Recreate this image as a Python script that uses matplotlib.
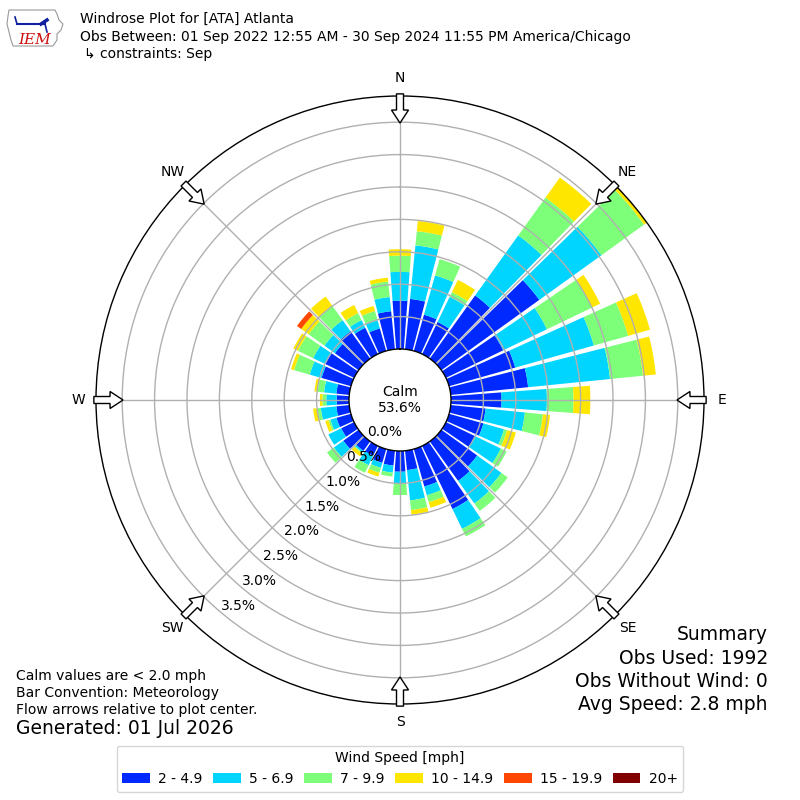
import numpy as np
import matplotlib
matplotlib.use("Agg")
import matplotlib.pyplot as plt
from matplotlib.patches import FancyArrow, Patch, Polygon

# ---------------- data (percent of observations) ----------------
directions = list(range(0, 360, 10))
speed_labels = ["2 - 4.9", "5 - 6.9", "7 - 9.9", "10 - 14.9", "15 - 19.9", "20+"]

spd_2_5 = [0.745, 0.78, 0.58, 0.55, 1.20, 1.86, 0.98, 1.06, 1.20, 0.78, 0.54, 0.55,
           0.50, 0.68, 0.75, 1.08, 0.60, 0.30, 0.32, 0.23, 0.22, 0.17, 0.18, 0.29,
           0.22, 0.23, 0.20, 0.19, 0.20, 0.47, 0.49, 0.45, 0.52, 0.45, 0.36, 0.59]
spd_5_7 = [0.445, 0.83, 0.63, 0.43, 1.14, 1.18, 0.75, 1.26, 1.27, 0.70, 0.61, 0.33,
           0.44, 0.46, 0.43, 0.34, 0.14, 0.47, 0.18, 0.11, 0.08, 0.16, 0.03, 0.18,
           0.22, 0.10, 0.24, 0.16, 0.19, 0.19, 0.21, 0.20, 0.21, 0.13, 0.13, 0.22]
spd_7_10 = [0.25, 0.22, 0.26, 0.08, 0.72, 0.81, 0.77, 0.55, 0.51, 0.41, 0.28, 0.05,
            0.10, 0.12, 0.14, 0.13, 0.11, 0.15, 0.18, 0.06, 0.08, 0.13, 0.01, 0.13,
            0.00, 0.03, 0.05, 0.06, 0.10, 0.25, 0.26, 0.30, 0.27, 0.12, 0.15, 0.24]
spd_10_15 = [0.10, 0.16, 0.00, 0.21, 0.38, 0.10, 0.14, 0.35, 0.20, 0.26, 0.11, 0.14,
             0.00, 0.00, 0.00, 0.00, 0.09, 0.07, 0.00, 0.00, 0.06, 0.00, 0.06, 0.00,
             0.00, 0.05, 0.07, 0.04, 0.05, 0.05, 0.08, 0.14, 0.18, 0.14, 0.08, 0.06]
spd_15_20 = [0.0] * 31 + [0.08] + [0.0] * 4
spd_20_up = [0.0] * 36

series = [spd_2_5, spd_5_7, spd_7_10, spd_10_15, spd_15_20, spd_20_up]
ring_ticks = [0.0, 0.5, 1.0, 1.5, 2.0, 2.5, 3.0, 3.5]
compass = ["N", "NE", "E", "SE", "S", "SW", "W", "NW"]
calm_pct = 53.6

# ---------------- figure ----------------
fig = plt.figure(figsize=(8, 8), dpi=100)
ax = fig.add_axes([0.12, 0.12, 0.76, 0.76], projection="polar")
ax.set_theta_zero_location("N")
ax.set_theta_direction(-1)

colors = plt.cm.jet(np.linspace(0, 1, 7))[1:]
theta = np.deg2rad(directions)
width = np.deg2rad(8.6)
bottom = np.zeros(len(directions))
handles = []
for vals, col, lab in zip(series, colors, speed_labels):
    v = np.array(vals)
    ax.bar(theta, v, width=width, bottom=bottom, color=col, linewidth=0, align="center")
    bottom = bottom + v
    handles.append(Patch(facecolor=col, label=lab))

ax.set_ylim(0, 3.904)
ax.set_rorigin(-0.787)
ax.set_rgrids(ring_ticks[1:], labels=[""] * (len(ring_ticks) - 1))
ax.set_thetagrids(range(0, 360, 45), labels=[""] * 8)
ax.grid(True, color="#b0b0b0", linewidth=1.0)
for sp in ax.spines.values():
    sp.set_color("black")
    sp.set_linewidth(1.0)

# radial labels
for v in ring_ticks:
    ax.text(np.deg2rad(220), v, f"{v:.1f}%", ha="left", va="bottom", fontsize=10, zorder=5)

# compass labels and hollow arrows
for i, lab in enumerate(compass):
    ang = np.deg2rad(i * 45)
    s, c = np.sin(ang), np.cos(ang)
    ax.text(0.5 + 0.5296 * s, 0.5 + 0.5296 * c, lab, transform=ax.transAxes,
            ha="center", va="center", fontsize=10)
    r0, r1 = 0.5035, 0.4555
    arr = FancyArrow(0.5 + r0 * s, 0.5 + r0 * c, (r1 - r0) * s, (r1 - r0) * c,
                     width=0.0115, head_width=0.028, head_length=0.0214,
                     length_includes_head=True, transform=ax.transAxes,
                     facecolor="white", edgecolor="black", linewidth=1.0,
                     clip_on=False, zorder=10)
    ax.add_patch(arr)

ax.text(0.5, 0.5, f"Calm\n{calm_pct:.1f}%", transform=ax.transAxes,
        ha="center", va="center", fontsize=10, linespacing=1.2)

# ---------------- header ----------------
fig.text(80 / 800, 1 - 19 / 800, "Windrose Plot for [ATA] Atlanta", va="center", fontsize=10)
fig.text(80 / 800, 1 - 37 / 800,
         "Obs Between: 01 Sep 2022 12:55 AM - 30 Sep 2024 11:55 PM America/Chicago",
         va="center", fontsize=10)
fig.text(84 / 800, 1 - 54 / 800, "↳ constraints: Sep", va="center", fontsize=10)

# logo
lax = fig.add_axes([5 / 800, 1 - 50 / 800, 60 / 800, 44 / 800])
lax.set_xlim(0, 60)
lax.set_ylim(0, 44)
lax.axis("off")
iowa = [(4, 40), (50, 40), (52, 36), (54, 30), (58, 26), (56, 20), (52, 16), (52, 10),
        (48, 4), (8, 4), (6, 10), (4, 18), (2, 26), (3, 34)]
lax.add_patch(Polygon(iowa, closed=True, facecolor="white", edgecolor="#999999", linewidth=0.8))
lax.plot([12, 40], [26, 26], color="#1020a0", linewidth=1.5)
lax.plot([12, 10], [26, 33], color="#1020a0", linewidth=1.2)
lax.plot([36, 42], [26, 30], color="#1020a0", linewidth=2.5)
lax.plot([40, 42], [26, 18], color="#1020a0", linewidth=1.2)
lax.text(30, 10, "IEM", color="#cc1010", fontsize=11, style="italic",
         family="DejaVu Serif", ha="center", va="center")

# ---------------- footer text ----------------
fig.text(16 / 800, 1 - 676 / 800, "Calm values are < 2.0 mph", va="center", fontsize=10)
fig.text(16 / 800, 1 - 693 / 800, "Bar Convention: Meteorology", va="center", fontsize=10)
fig.text(16 / 800, 1 - 710 / 800, "Flow arrows relative to plot center.", va="center", fontsize=10)
fig.text(16 / 800, 1 - 729 / 800, "Generated: 01 Jul 2026", va="center", fontsize=13.5)

summary = ["Summary", "Obs Used: 1992", "Obs Without Wind: 0", "Avg Speed: 2.8 mph"]
for i, line in enumerate(summary):
    fig.text(768 / 800, 1 - (635 + 23.3 * i) / 800, line, ha="right", va="center", fontsize=13.5)

fig.legend(handles=handles, loc="lower center", ncol=6, title="Wind Speed [mph]",
           bbox_to_anchor=(0.5, 0.0), fontsize=10, title_fontsize=10,
           columnspacing=0.75, handletextpad=0.6, borderaxespad=0.6)

fig.savefig("out.png", dpi=100)
